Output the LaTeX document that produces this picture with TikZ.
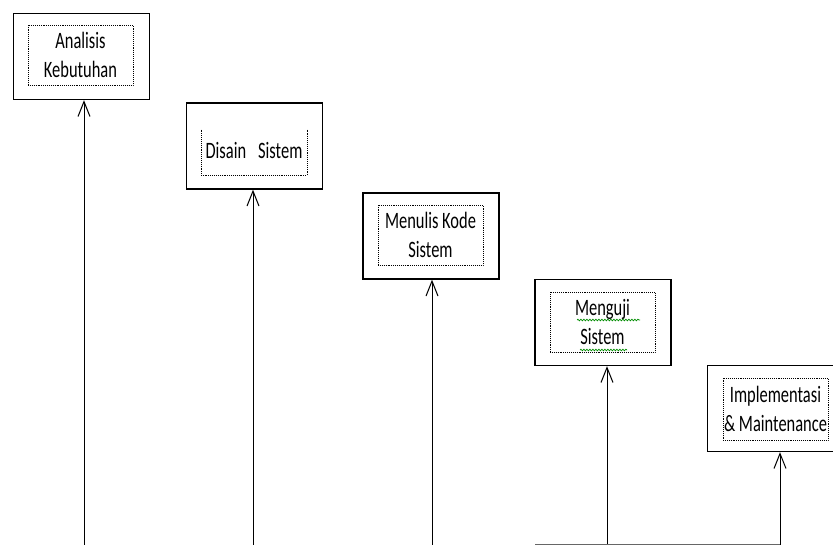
\documentclass[tikz,border=0pt]{standalone}
\usepackage{fontspec}
\newfontfamily\boxfont[FakeStretch=0.7]{Carlito}
\usetikzlibrary{positioning,arrows.meta,decorations.pathmorphing}

\begin{document}
\begin{tikzpicture}[
		x=1pt,y=-1pt,
		outerbox/.style={
			draw,
			line width=1.4pt,
			minimum width=136pt,
			minimum height=86pt,
			inner sep=0pt
		},
		innerbox/.style={
			densely dotted,
			line width=0.9pt,
			minimum width=105pt,
			minimum height=60pt,
			inner sep=0pt,
			align=center,
			font=\boxfont\fontsize{23.5}{29}\selectfont
		},
		flow/.style={
			-{Straight Barb[length=15pt,width=12pt,line width=1pt]},
			line width=1pt
		},
		spell/.style={
			draw=green!55!black,
			line width=0.7pt,
			decorate,
			decoration={snake,amplitude=0.8pt,segment length=3pt}
		}
		]
		
		\useasboundingbox (0,0) rectangle (833,545);
		\clip (0,0) rectangle (833,545);
		
		% boxes
		\node[outerbox] (b1) at (81.5,56.5) {};
		\node[innerbox,draw] (t1) at (80.5,55) {\raisebox{-2pt}{Analisis}\\\raisebox{-2pt}{Kebutuhan}};
		
		\node[outerbox] (b2) at (254.5,146) {};
		\node[innerbox,minimum height=45pt] (t2) at (254,152.5) {\raisebox{5pt}{Disain\hspace{12pt}Sistem}};
		\draw[densely dotted,line width=0.9pt] (t2.north west) -- (t2.south west) -- (t2.south east) -- (t2.north east);
		
		\node[outerbox] (b3) at (431,236) {};
		\node[innerbox,draw] (t3) at (430.5,235) {\raisebox{-2pt}{Menulis Kode}\\\raisebox{-2pt}{Sistem}};
		
		\node[outerbox] (b4) at (603,322.5) {};
		\node[innerbox,draw] (t4) at (602.5,322.5) {Menguji\\Sistem};
		\draw[spell] (577,320) -- (640,320);
		\draw[spell] (580,350) -- (627,350);
		
		\node[outerbox] (b5) at (775.5,408.5) {};
		\node[innerbox,draw,minimum height=62pt] (t5) at (775.5,409) {Implementasi\\\& Maintenance};
		
		% arrows from the bottom
		\coordinate (s1) at (84,545);
		\coordinate (s2) at (253,545);
		\coordinate (s3) at (432,545);
		\coordinate (s4) at (607,545);
		\coordinate (s5) at (780,545);
		\coordinate (h) at (535,544);
		
		\draw[flow] (s1) -- (s1 |- b1.south);
		\draw[flow] (s2) -- (s2 |- b2.south);
		\draw[flow] (s3) -- (s3 |- b3.south);
		\draw[flow] (s4) -- (s4 |- b4.south);
		\draw[flow] (s5) -- (s5 |- b5.south);
		\draw[line width=1pt,black!60] (h) -- (h -| s5);
		
	\end{tikzpicture}
\end{document}
